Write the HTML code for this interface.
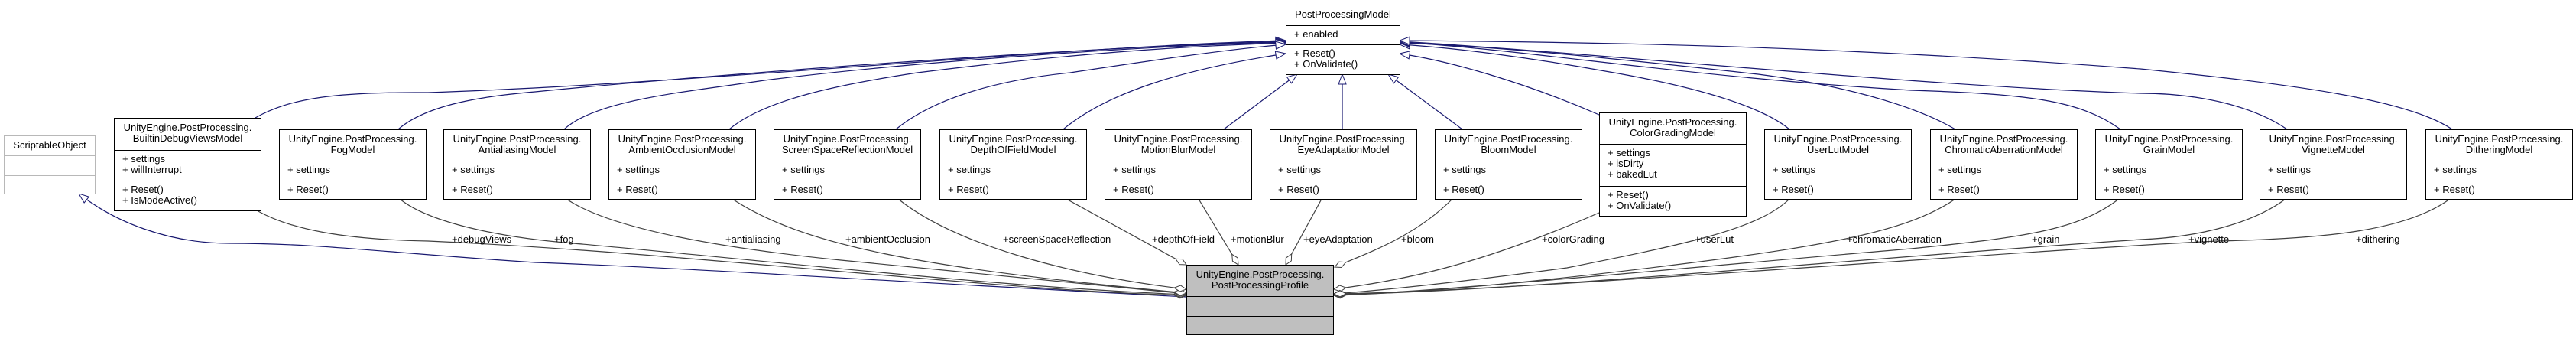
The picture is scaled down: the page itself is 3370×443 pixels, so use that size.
<!DOCTYPE html>
<html><head><meta charset="utf-8"><style>
html,body{margin:0;padding:0;background:#fff;}
#c{position:relative;width:3370px;height:443px;overflow:hidden;font-family:"Liberation Sans",Arial,sans-serif;font-size:13px;color:#000;}
svg{position:absolute;left:0;top:0;}
.b{position:absolute;box-sizing:border-box;border:1px solid #000;background:#fff;width:193px;}
.b div{box-sizing:border-box;border-top:1px solid #000;padding:4px 0 0 10px;line-height:14px;white-space:nowrap;overflow:hidden;}
.b div.t{border-top:none;text-align:center;padding:5px 0 0 0;}
.g{border-color:#b8b8b8;}
.g div{border-color:#b8b8b8;}
.p{background:#bfbfbf;}
.l{position:absolute;top:305px;line-height:16px;white-space:nowrap;}
</style></head><body><div id="c">
<svg width="3370" height="443" viewBox="0 0 3370 443">
<defs>
<marker id="tri" markerUnits="userSpaceOnUse" markerWidth="16" markerHeight="14" refX="14" refY="6" orient="auto"><path d="M1,1 L14,6 L1,11 Z" fill="#fff" stroke="#191970" stroke-width="1"/></marker>
<marker id="dia" markerUnits="userSpaceOnUse" markerWidth="20" markerHeight="12" refX="17" refY="5" orient="auto"><path d="M1,5 L9,1 L17,5 L9,9 Z" fill="#fff" stroke="#404040" stroke-width="1"/></marker>
</defs>
<g fill="none" stroke="#191970" stroke-width="1.2" marker-end="url(#tri)">
<path d="M334,154 C380,128 440,120 560,121 C900,110 1400,60 1682,53"/>
<path d="M521,169 C560,135 640,125 700,120 C900,100 1400,62 1682,54"/>
<path d="M738,169 C780,130 900,120 1000,105 C1200,80 1500,60 1682,55"/>
<path d="M954,169 C1000,130 1100,110 1200,95 C1400,70 1550,60 1682,56"/>
<path d="M1172,169 C1220,130 1300,105 1400,95 C1500,80 1600,65 1682,58"/>
<path d="M1391,169 C1450,120 1550,90 1682,70"/>
<path d="M1601,169 L1697,97"/>
<path d="M1756,169 L1756,97"/>
<path d="M1913,169 L1816,97"/>
<path d="M2092,150 C2000,110 1900,80 1831,70"/>
<path d="M2341,169 C2300,135 2200,110 2100,93 C2000,75 1900,62 1831,58"/>
<path d="M2558,169 C2500,135 2400,110 2300,97 C2100,75 1950,60 1831,56"/>
<path d="M2774,169 C2720,130 2650,123 2500,118 C2200,100 2000,65 1831,55"/>
<path d="M2992,169 C2950,140 2880,122 2800,122 C2500,112 2100,70 1831,54"/>
<path d="M3208,169 C3150,130 3000,110 2800,90 C2400,60 2100,55 1831,53"/>
<path d="M1552,388 C1200,370 900,350 700,343 C500,330 420,318 300,318 C220,318 150,290 103,253"/>
</g>
<g fill="none" stroke="#404040" stroke-width="1.2" marker-end="url(#dia)">
<path d="M336,275 C380,300 450,313 560,315 C900,330 1300,380 1552,386"/>
<path d="M523,260 C560,290 650,310 750,318 C1000,340 1300,375 1552,385"/>
<path d="M741,260 C800,300 950,325 1100,340 C1300,360 1450,375 1552,384"/>
<path d="M958,260 C1050,320 1200,350 1552,383"/>
<path d="M1175,260 C1250,320 1400,360 1552,378"/>
<path d="M1395,260 L1552,346"/>
<path d="M1568,260 L1620,346"/>
<path d="M1729,260 L1682,346"/>
<path d="M1900,260 C1850,310 1790,330 1746,349"/>
<path d="M2092,278 C1950,340 1850,365 1745,378"/>
<path d="M2341,260 C2300,300 2200,320 2050,350 C1900,370 1800,380 1745,384"/>
<path d="M2558,260 C2500,300 2400,320 2200,345 C2000,370 1850,383 1745,386"/>
<path d="M2772,260 C2720,300 2650,310 2500,325 C2200,350 1900,380 1745,386"/>
<path d="M2990,260 C2950,290 2880,310 2800,313 C2400,340 2000,380 1745,385"/>
<path d="M3205,260 C3150,300 3050,312 2900,315 C2600,330 2000,380 1745,384"/>
</g>
</svg>

<div class="b g" style="left:5px;top:177px;width:120px;height:77px;"><div class="t" style="height:25px">ScriptableObject</div><div style="height:26px"></div><div style="height:24px"></div></div>

<div class="b" style="left:1682px;top:6px;width:150px;height:92px;"><div class="t" style="height:26px">PostProcessingModel</div><div style="height:25px">+ enabled</div><div style="height:39px">+ Reset()<br>+ OnValidate()</div></div>

<div class="b" style="left:149px;top:154px;height:122px;"><div class="t" style="height:41px">UnityEngine.PostProcessing.<br>BuiltinDebugViewsModel</div><div style="height:40px">+ settings<br>+ willInterrupt</div><div style="height:39px">+ Reset()<br>+ IsModeActive()</div></div>

<div class="b" style="left:365px;top:169px;height:92px;"><div class="t" style="height:40px">UnityEngine.PostProcessing.<br>FogModel</div><div style="height:26px">+ settings</div><div style="height:24px">+ Reset()</div></div>
<div class="b" style="left:580px;top:169px;height:92px;"><div class="t" style="height:40px">UnityEngine.PostProcessing.<br>AntialiasingModel</div><div style="height:26px">+ settings</div><div style="height:24px">+ Reset()</div></div>
<div class="b" style="left:796px;top:169px;height:92px;"><div class="t" style="height:40px">UnityEngine.PostProcessing.<br>AmbientOcclusionModel</div><div style="height:26px">+ settings</div><div style="height:24px">+ Reset()</div></div>
<div class="b" style="left:1012px;top:169px;height:92px;"><div class="t" style="height:40px">UnityEngine.PostProcessing.<br>ScreenSpaceReflectionModel</div><div style="height:26px">+ settings</div><div style="height:24px">+ Reset()</div></div>
<div class="b" style="left:1229px;top:169px;height:92px;"><div class="t" style="height:40px">UnityEngine.PostProcessing.<br>DepthOfFieldModel</div><div style="height:26px">+ settings</div><div style="height:24px">+ Reset()</div></div>
<div class="b" style="left:1445px;top:169px;height:92px;"><div class="t" style="height:40px">UnityEngine.PostProcessing.<br>MotionBlurModel</div><div style="height:26px">+ settings</div><div style="height:24px">+ Reset()</div></div>
<div class="b" style="left:1661px;top:169px;height:92px;"><div class="t" style="height:40px">UnityEngine.PostProcessing.<br>EyeAdaptationModel</div><div style="height:26px">+ settings</div><div style="height:24px">+ Reset()</div></div>
<div class="b" style="left:1877px;top:169px;height:92px;"><div class="t" style="height:40px">UnityEngine.PostProcessing.<br>BloomModel</div><div style="height:26px">+ settings</div><div style="height:24px">+ Reset()</div></div>

<div class="b" style="left:2092px;top:147px;height:136px;"><div class="t" style="height:40px">UnityEngine.PostProcessing.<br>ColorGradingModel</div><div style="height:55px">+ settings<br>+ isDirty<br>+ bakedLut</div><div style="height:39px">+ Reset()<br>+ OnValidate()</div></div>

<div class="b" style="left:2308px;top:169px;height:92px;"><div class="t" style="height:40px">UnityEngine.PostProcessing.<br>UserLutModel</div><div style="height:26px">+ settings</div><div style="height:24px">+ Reset()</div></div>
<div class="b" style="left:2525px;top:169px;height:92px;"><div class="t" style="height:40px">UnityEngine.PostProcessing.<br>ChromaticAberrationModel</div><div style="height:26px">+ settings</div><div style="height:24px">+ Reset()</div></div>
<div class="b" style="left:2741px;top:169px;height:92px;"><div class="t" style="height:40px">UnityEngine.PostProcessing.<br>GrainModel</div><div style="height:26px">+ settings</div><div style="height:24px">+ Reset()</div></div>
<div class="b" style="left:2956px;top:169px;height:92px;"><div class="t" style="height:40px">UnityEngine.PostProcessing.<br>VignetteModel</div><div style="height:26px">+ settings</div><div style="height:24px">+ Reset()</div></div>
<div class="b" style="left:3173px;top:169px;height:92px;"><div class="t" style="height:40px">UnityEngine.PostProcessing.<br>DitheringModel</div><div style="height:26px">+ settings</div><div style="height:24px">+ Reset()</div></div>

<div class="b p" style="left:1552px;top:346px;height:92px;"><div class="t" style="height:40px">UnityEngine.PostProcessing.<br>PostProcessingProfile</div><div style="height:26px"></div><div style="height:24px"></div></div>

<div class="l" style="left:591px">+debugViews</div>
<div class="l" style="left:725px">+fog</div>
<div class="l" style="left:949px">+antialiasing</div>
<div class="l" style="left:1106px">+ambientOcclusion</div>
<div class="l" style="left:1312px">+screenSpaceReflection</div>
<div class="l" style="left:1507px">+depthOfField</div>
<div class="l" style="left:1610px">+motionBlur</div>
<div class="l" style="left:1705px">+eyeAdaptation</div>
<div class="l" style="left:1833px">+bloom</div>
<div class="l" style="left:2017px">+colorGrading</div>
<div class="l" style="left:2217px">+userLut</div>
<div class="l" style="left:2416px">+chromaticAberration</div>
<div class="l" style="left:2658px">+grain</div>
<div class="l" style="left:2863px">+vignette</div>
<div class="l" style="left:3082px">+dithering</div>
</div></body></html>
